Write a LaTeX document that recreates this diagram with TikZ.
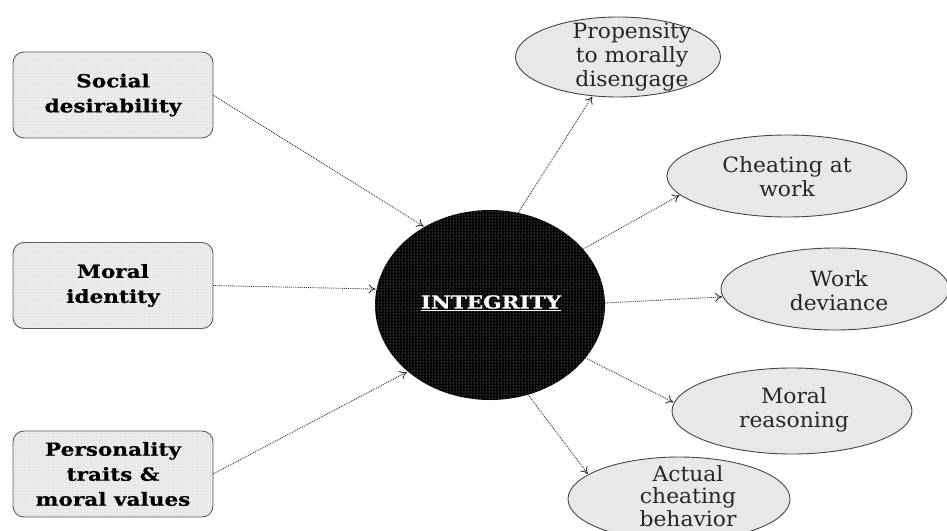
\documentclass[tikz,border=0pt]{standalone}
\usepackage{fontspec}
\setmainfont{DejaVu Serif}
\newfontfamily\boxfont[FakeStretch=1.2,FakeBold=0.6]{DejaVu Serif Bold}
\newfontfamily\ovalfont[FakeStretch=1.04]{DejaVu Serif}
\usetikzlibrary{shapes.geometric,arrows.meta,patterns}
\definecolor{ovalfill}{HTML}{E8E8E8}
\definecolor{boxfill}{HTML}{EDEDED}
\tikzset{
  srcbox/.style={rectangle, rounded corners=11pt, draw=gray!70!black, line width=0.9pt,
    fill=boxfill, postaction={pattern=dots, pattern color=gray!60},
    minimum width=200pt, minimum height=86pt, inner sep=0pt, outer sep=0pt},
  boxtxt/.style={align=center, font=\boxfont\fontsize{18}{25}\selectfont, text=black},
  oval/.style={ellipse, draw=gray!55!black, line width=0.9pt, fill=ovalfill,
    inner sep=0pt, outer sep=0pt},
  ovaltxt/.style={align=center, font=\ovalfont\fontsize{21}{24}\selectfont, text=black!85, inner sep=0pt},
  core/.style={ellipse, fill=black, postaction={pattern=dots, pattern color=gray!35},
    minimum width=230pt, minimum height=190pt, inner sep=0pt, outer sep=0pt},
  arr/.style={densely dotted, draw=gray!40!black, line width=0.9pt,
    -{To[length=7pt,width=9pt]}, shorten >=1pt},
}
\begin{document}
\begin{tikzpicture}[x=1pt,y=-1pt]
\useasboundingbox (0,0) rectangle (947,530);
\clip (0,0) rectangle (947,530);
% sources
\node[srcbox] (soc) at (113,95) {};
\node[boxtxt] (soct) at (soc) {Social\\desirability};
\node[srcbox] (mid) at (113,285.5) {};
\node[boxtxt] (midt) at (mid) {Moral\\identity};
\node[srcbox] (per) at (113,474) {};
\node[boxtxt] (pert) at (per) {Personality\\traits \&\\moral values};
% core
\node[core] (int) at (490,305) {};
\node[font=\boxfont\fontsize{18}{22}\selectfont, text=white, inner sep=0pt] (intt) at (491,303)
  {\underline{INTEGRITY}};
% outcomes
\node[oval, minimum width=205pt, minimum height=80pt] (pro) at (618,57) {};
\node[ovaltxt] (prot) at (632,57) {Propensity\\to morally\\disengage};
\node[oval, minimum width=240pt, minimum height=82pt] (che) at (787,176) {};
\node[ovaltxt] (chet) at (787,177) {Cheating at\\work};
\node[oval, minimum width=228pt, minimum height=82pt] (dev) at (835,289) {};
\node[ovaltxt] (devt) at (839,291) {Work\\deviance};
\node[oval, minimum width=240pt, minimum height=86pt] (rea) at (792,411) {};
\node[ovaltxt] (reat) at (794,410) {Moral\\reasoning};
\node[oval, minimum width=222pt, minimum height=84pt] (act) at (679,499) {};
\node[ovaltxt, font=\ovalfont\fontsize{21}{22.5}\selectfont] (actt) at (688,496) {Actual\\cheating\\behavior};
% connectors
\draw[arr] (soc.east) -- (int.130.7);
\draw[arr] (mid.east) -- (int.172.6);
\draw[arr] (per.east) -- (int.219.3);
\draw[arr] (int.73.2) -- (pro.237);
\draw[arr] (int.31.7) -- (che.190.4);
\draw[arr] (int.1.5) -- (dev.184);
\draw[arr] (int.-29.7) -- (rea.176);
\draw[arr] (int.-67.8) -- (act.165);
\end{tikzpicture}
\end{document}
